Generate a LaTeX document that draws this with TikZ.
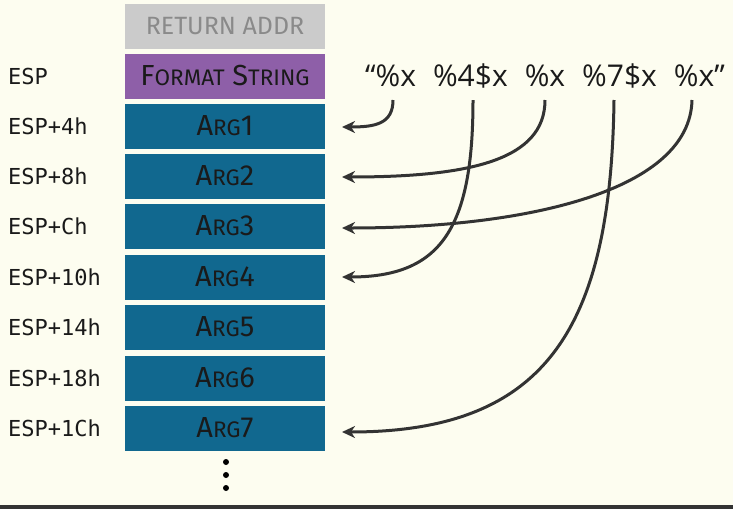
\documentclass[tikz,border=0pt]{standalone}
\usepackage{fontspec}
\setmainfont{Fira Sans}
\newfontfamily\monofnt{DejaVu Sans Mono}
\newfontfamily\strfnt{Open Sans}
\usetikzlibrary{arrows.meta}
\definecolor{bgc}{HTML}{FDFDF0}
\definecolor{grayc}{HTML}{CBCBCB}
\definecolor{graytxt}{HTML}{8A8A8A}
\definecolor{purp}{HTML}{8E5FA8}
\definecolor{tealc}{HTML}{11688F}
\definecolor{txtc}{HTML}{1A1A1A}
\definecolor{arrc}{HTML}{333333}
\newcommand{\fsc}[2]{{\fontsize{29}{29}\selectfont #1}{\fontsize{22.5}{22.5}\selectfont #2}}
\tikzset{
  slot/.style={minimum width=200pt, minimum height=45pt, inner sep=0pt, text=txtc, font=\fontsize{29}{29}\selectfont},
  addr/.style={anchor=west, text=txtc, font=\monofnt\fontsize{22}{22}\selectfont, inner sep=0pt},
  ptr/.style={draw=arrc, line width=3pt, -{Stealth[length=13pt,width=12pt,inset=4pt]}},
  dot/.style={circle, fill=black, inner sep=0pt, minimum size=6pt}
}
\begin{document}
\begin{tikzpicture}[x=1pt,y=-1pt]
\fill[bgc] (0,0) rectangle (733,509);
\useasboundingbox (0,0) rectangle (733,509);
\fill[arrc] (0,505) rectangle (733,509);

\node[slot, fill=grayc, text=graytxt, font=\fontsize{25}{25}\selectfont] (ret) at (225,26) {RETURN ADDR};
\node[slot, fill=purp] (fmt) at (225,76) {\fsc{F}{ORMAT} \fsc{S}{TRING}};
\foreach \i/\y in {1/126,2/176,3/226,4/277,5/327,6/378,7/428}{
  \node[slot, fill=tealc] (arg\i) at (225,\y) {\fsc{A}{RG}\i};
}
\node[addr] (lesp) at (8,76) {ESP};
\node[addr] (l1) at (8,126) {ESP+4h};
\node[addr] (l2) at (8,176) {ESP+8h};
\node[addr] (l3) at (8,226) {ESP+Ch};
\node[addr] (l4) at (8,277) {ESP+10h};
\node[addr] (l5) at (8,327) {ESP+14h};
\node[addr] (l6) at (8,378) {ESP+18h};
\node[addr] (l7) at (8,428) {ESP+1Ch};

\node[dot] (d1) at (226,462) {};
\node[dot] (d2) at (226,475) {};
\node[dot] (d3) at (226,488) {};

\node[font=\strfnt\fontsize{30}{30}\selectfont, text=txtc, inner sep=0pt] (fs) at (545,76) {“\%x\hspace{17pt}\%4\$x\hspace{17pt}\%x\hspace{17pt}\%7\$x\hspace{17pt}\%x”};

\coordinate (s1) at (393,100);
\coordinate (s2) at (473,100);
\coordinate (s3) at (545,100);
\coordinate (s4) at (614,100);
\coordinate (s5) at (692,100);
\coordinate (t1) at (342,127);
\coordinate (t2) at (342,177);
\coordinate (t3) at (342,228);
\coordinate (t4) at (342,277);
\coordinate (t7) at (342,432);

\draw[ptr] (s1) .. controls (393,124) and (375,127) .. (t1);
\draw[ptr] (s3) .. controls (545,160) and (470,177) .. (t2);
\draw[ptr] (s5) .. controls (690,190) and (530,228) .. (t3);
\draw[ptr] (s2) .. controls (473,230) and (440,277) .. (t4);
\draw[ptr] (s4) .. controls (611,330) and (545,432) .. (t7);
\end{tikzpicture}
\end{document}
